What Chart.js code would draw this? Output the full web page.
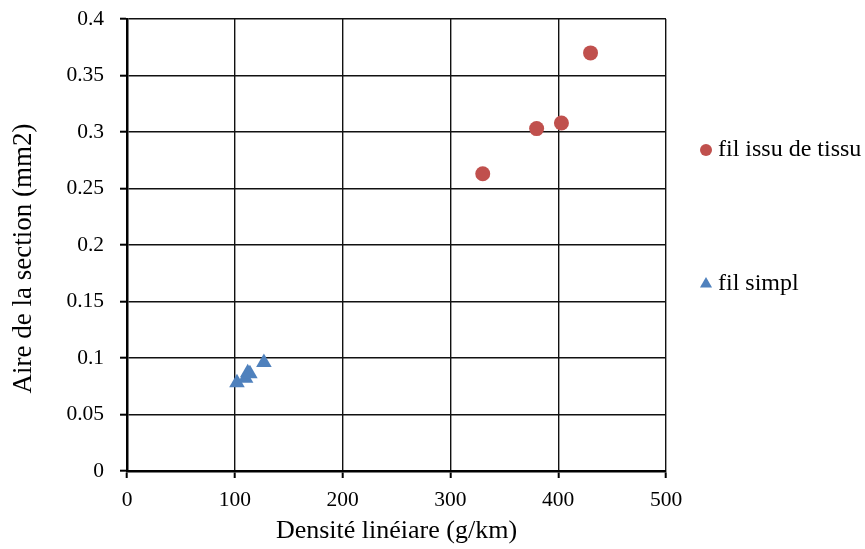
<!DOCTYPE html>
<html>
<head>
<meta charset="utf-8">
<script src="https://cdn.jsdelivr.net/npm/chart.js@4/dist/chart.umd.min.js"></script>
<style>
  html, body { margin: 0; padding: 0; background: #fff; }
  #wrap { width: 865px; height: 549px; }
</style>
</head>
<body>
<div id="wrap"><canvas id="chart" width="865" height="549"></canvas></div>
<script>
// Data
const tissuX = [330, 380, 403, 430];
const tissuY = [0.263, 0.303, 0.308, 0.370];
const simplX = [102, 110, 112, 114, 127];
const simplY = [0.078, 0.082, 0.087, 0.086, 0.096];

const seriesNames = ['fil issu de tissu', 'fil simpl'];
const xTicks = [0, 100, 200, 300, 400, 500];
const yTicks = [0, 0.05, 0.1, 0.15, 0.2, 0.25, 0.3, 0.35, 0.4];

const red = '#C0504D';
const blue = '#4F81BD';
const serif = "'Liberation Serif', 'Times New Roman', serif";

const toPoints = (xs, ys) => xs.map((x, i) => ({ x, y: ys[i] }));

// Legend drawn on the right, like the original office chart
const sideLegend = {
  id: 'sideLegend',
  afterDraw(chart) {
    const ctx = chart.ctx;
    const items = [
      { text: seriesNames[0], style: 'circle', color: red, r: 6, y: 150 },
      { text: seriesNames[1], style: 'triangle', color: blue, r: 7, y: 284 }
    ];
    ctx.save();
    ctx.font = '24px ' + serif;
    ctx.textBaseline = 'middle';
    items.forEach(it => {
      ctx.fillStyle = it.color;
      ctx.strokeStyle = it.color;
      Chart.helpers.drawPoint(ctx, { pointStyle: it.style, radius: it.r, rotation: 0, borderWidth: 0 }, 706, it.y);
      ctx.fillStyle = '#000';
      ctx.fillText(it.text, 718, it.y);
    });
    ctx.restore();
  }
};

new Chart(document.getElementById('chart'), {
  type: 'scatter',
  data: {
    datasets: [{
      label: seriesNames[0],
      data: toPoints(tissuX, tissuY),
      pointStyle: 'circle',
      pointRadius: 7.5,
      backgroundColor: red,
      borderColor: red,
      borderWidth: 0
    }, {
      label: seriesNames[1],
      data: toPoints(simplX, simplY),
      pointStyle: 'triangle',
      pointRadius: 9,
      backgroundColor: blue,
      borderColor: blue,
      borderWidth: 0
    }]
  },
  options: {
    responsive: false,
    animation: false,
    layout: { padding: { top: 19, right: 199, left: 0, bottom: 0 } },
    plugins: {
      legend: { display: false },
      tooltip: { enabled: false }
    },
    scales: {
      x: {
        type: 'linear',
        min: 0,
        max: 500,
        afterBuildTicks: s => { s.ticks = xTicks.map(v => ({ value: v })); },
        afterFit: s => { s.height = 78; s.paddingRight = 0; },
        ticks: {
          color: '#000',
          font: { family: serif, size: 21.5 },
          padding: 9
        },
        grid: {
          color: '#111',
          lineWidth: 1.4,
          tickLength: 7,
          tickColor: '#000',
          tickWidth: 2
        },
        border: { color: '#000', width: 2.5 },
        title: {
          display: true,
          text: 'Densité linéiare (g/km)',
          color: '#000',
          font: { family: serif, size: 26 },
          padding: { top: 0, bottom: 2 }
        }
      },
      y: {
        type: 'linear',
        min: 0,
        max: 0.4,
        afterBuildTicks: s => { s.ticks = yTicks.map(v => ({ value: v })); },
        afterFit: s => { s.width = 127; s.paddingTop = 0; s.paddingBottom = 0; },
        ticks: {
          color: '#000',
          font: { family: serif, size: 21.5 },
          padding: 16,
          callback: v => String(+v.toFixed(2))
        },
        grid: {
          color: '#111',
          lineWidth: 1.4,
          tickLength: 7,
          tickColor: '#000',
          tickWidth: 2
        },
        border: { color: '#000', width: 2.5 },
        title: {
          display: true,
          // trailing nbsp nudges the rotated title down, as in the original
          text: 'Aire de la section (mm2)\u00a0\u00a0\u00a0\u00a0',
          color: '#000',
          font: { family: serif, size: 27 },
          padding: { bottom: 0, top: 8 }
        }
      }
    }
  },
  plugins: [sideLegend]
});
</script>
</body>
</html>
